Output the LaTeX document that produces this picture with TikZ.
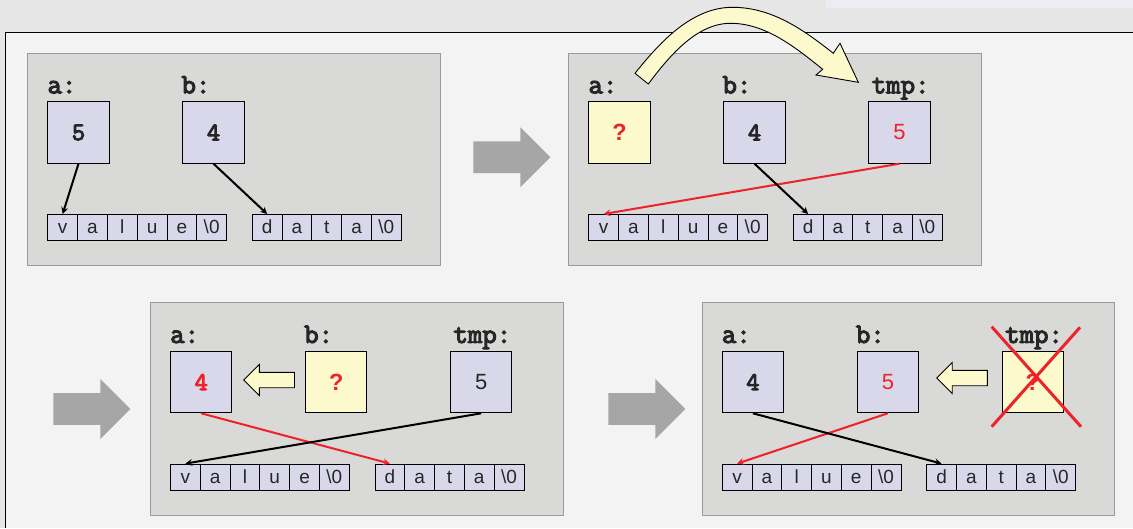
\documentclass[tikz,border=0pt]{standalone}
\usepackage{fontspec}
\newfontfamily\cellfont{Liberation Sans}
\newfontfamily\codefont{Latin Modern Mono}[AutoFakeBold=4]
\usetikzlibrary{shapes.arrows}

\definecolor{pagegray}{HTML}{E6E6E6}
\definecolor{tabfill}{HTML}{ECECF4}
\definecolor{slidebg}{HTML}{F3F3F3}
\definecolor{panelgray}{HTML}{D9D9D7}
\definecolor{panelline}{HTML}{9A9A9A}
\definecolor{boxfill}{HTML}{D8D8EA}
\definecolor{notefill}{HTML}{FCF9CC}
\definecolor{hotred}{HTML}{EE2229}
\definecolor{stepgray}{HTML}{A6A6A6}
\definecolor{ink}{HTML}{262626}

\tikzset{
  panel/.style={draw=panelline, fill=panelgray, line width=0.8pt,
    minimum width=412.5pt, minimum height=212.6pt, inner sep=0pt, anchor=north west},
  varbox/.style={draw, fill=boxfill, line width=1pt, minimum size=61.4pt,
    inner sep=0pt, anchor=north west},
  notebox/.style={varbox, fill=notefill},
  varlabel/.style={font=\codefont\bfseries\fontsize{28}{28}\selectfont, text=ink,
    inner sep=0pt, anchor=base west},
  ttnum/.style={font=\codefont\bfseries\fontsize{25.5}{25.5}\selectfont, text=ink},
  sfnum/.style={font=\cellfont\fontsize{22}{22}\selectfont, text=ink},
  qmark/.style={font=\cellfont\bfseries\fontsize{23.5}{23.5}\selectfont, text=hotred},
  cell/.style={draw, fill=boxfill, line width=0.9pt, minimum width=29.8pt,
    minimum height=26pt, text height=14pt, text depth=1.4pt, inner sep=0pt,
    anchor=north west, font=\cellfont\fontsize{19}{19}\selectfont, text=ink},
  ptr/.style={-stealth, line width=2pt},
  redptr/.style={ptr, draw=hotred},
  steparrow/.style={single arrow, fill=stepgray, minimum height=77pt, minimum width=60pt,
    single arrow head extend=14pt, inner xsep=0pt, inner ysep=15.5pt},
  movearrow/.style={single arrow, shape border rotate=180, draw, fill=notefill,
    line width=0.9pt, minimum height=50.6pt, minimum width=30pt,
    single arrow head extend=7.75pt, inner xsep=0pt, inner ysep=7.25pt}
}

% one string as a row of cells
\newcommand{\strcells}[4]{%
  \foreach \ch [count=\i from 0] in {#4} {
    \node (#1-\i) [cell] at ({#2+\i*29.8},#3) {\ch};
  }%
}

\begin{document}
\begin{tikzpicture}[x=1pt, y=-1pt]
\useasboundingbox (0,0) rectangle (1133,528);

\fill[pagegray] (0,0) rectangle (1133,528);
\fill[tabfill] (826,0) rectangle (1133,7.7);
\fill[slidebg] (5.7,32.3) rectangle (1133,528);
\draw[line width=1.1pt] (1133,32.3) -- (5.7,32.3) -- (5.7,528);

\node (step1) [steparrow] at (504,157.3) {};
\node (step2) [steparrow] at (84,409) {};
\node (step3) [steparrow] at (639,409) {};

\begin{scope}[shift={(27.3,52.7)}]
\node (panel1) [panel] at (0,0) {};
\node (alabel1) [varlabel] at (20,40.6) {a:};
\node (blabel1) [varlabel] at (154,40.6) {b:};
\node (abox1) [varbox, ttnum] at (20,48.6) {5};
\node (bbox1) [varbox, ttnum] at (155,48.6) {4};
\strcells{val1}{20}{161.3}{v,a,l,u,e,\textbackslash 0}
\strcells{dat1}{224.5}{161.3}{d,a,t,a,\textbackslash 0}
\draw [ptr] (abox1.south) -- (val1-0.north);
\draw [ptr] (bbox1.south) -- (dat1-0.north);
\end{scope}

\begin{scope}[shift={(568.3,52.7)}]
\node (panel2) [panel] at (0,0) {};
\node (alabel2) [varlabel] at (20,40.6) {a:};
\node (blabel2) [varlabel] at (154,40.6) {b:};
\node (tlabel2) [varlabel, anchor=base east] at (361.4,40.6) {tmp:};
\node (abox2) [notebox, qmark] at (20,48.6) {?};
\node (bbox2) [varbox, ttnum] at (155,48.6) {4};
\node (tbox2) [varbox, sfnum, text=hotred] at (300,48.6) {5};
\strcells{val2}{20}{161.3}{v,a,l,u,e,\textbackslash 0}
\strcells{dat2}{224.5}{161.3}{d,a,t,a,\textbackslash 0}
\draw [redptr] (tbox2.south) -- (val2-0.north);
\draw [ptr] (bbox2.south) -- (dat2-0.north);
\end{scope}

\begin{scope}[shift={(150,302.3)}]
\node (panel3) [panel] at (0,0) {};
\node (alabel3) [varlabel] at (20,40.6) {a:};
\node (blabel3) [varlabel] at (154,40.6) {b:};
\node (tlabel3) [varlabel, anchor=base east] at (361.4,40.6) {tmp:};
\node (abox3) [varbox, ttnum, text=hotred] at (20,48.6) {4};
\node (bbox3) [notebox, qmark] at (155,48.6) {?};
\node (tbox3) [varbox, sfnum] at (300,48.6) {5};
\node (move3) [movearrow] at (123,77.7) {};
\strcells{val3}{20}{161.3}{v,a,l,u,e,\textbackslash 0}
\strcells{dat3}{224.5}{161.3}{d,a,t,a,\textbackslash 0}
\draw [redptr] (abox3.south) -- (dat3-0.north);
\draw [ptr] (tbox3.south) -- (val3-0.north);
\end{scope}

\begin{scope}[shift={(701.7,302.3)}]
\node (panel4) [panel] at (0,0) {};
\node (alabel4) [varlabel] at (20,40.6) {a:};
\node (blabel4) [varlabel] at (154,40.6) {b:};
\node (tlabel4) [varlabel, anchor=base east] at (361.4,40.6) {tmp:};
\node (abox4) [varbox, ttnum] at (20,48.6) {4};
\node (bbox4) [varbox, sfnum, text=hotred] at (155,48.6) {5};
\node (tbox4) [notebox, qmark] at (300,48.6) {?};
\node (move4) [movearrow] at (264.2,75.7) {};
\strcells{val4}{20}{161.3}{v,a,l,u,e,\textbackslash 0}
\strcells{dat4}{224.5}{161.3}{d,a,t,a,\textbackslash 0}
\draw [redptr] (bbox4.south) -- (val4-0.north);
\draw [ptr] (abox4.south) -- (dat4-0.north);
% tmp is gone
\draw [hotred, line width=3pt] (290,24.4) -- (379.3,124.4) (378.3,25) -- (290,124.4);
\end{scope}

% a is saved into tmp
\draw [fill=notefill, line width=0.9pt]
  (635,73.3) .. controls (657,46) and (690,7) .. (733,7.3)
  .. controls (773,7.5) and (805,31) .. (833.3,53.3)
  -- (840,43.3) -- (858.3,82.3) -- (816,75) -- (822.7,69.3)
  .. controls (795,47) and (765,23) .. (730,23.3)
  .. controls (697,23.6) and (670,55) .. (648.3,84) -- cycle;

\end{tikzpicture}
\end{document}
